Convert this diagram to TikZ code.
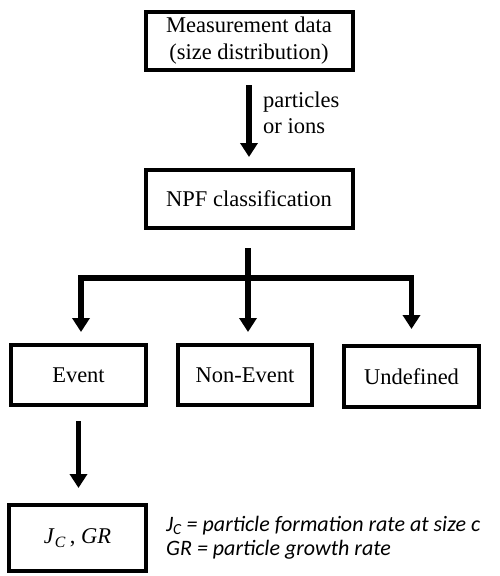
\documentclass[tikz,border=0pt]{standalone}
\usepackage{fontspec}
\setmainfont{Liberation Serif}
\newfontfamily\calfont{Carlito}
\usetikzlibrary{arrows.meta}
\tikzset{
  box/.style={draw, line width=4pt, rectangle, align=center, inner sep=0pt,
    font=\fontsize{22.5}{27}\selectfont},
  arr/.style={line width=5.5pt, -{Triangle[width=17pt,length=14pt]}},
  stem/.style={line width=5.5pt},
  note/.style={align=left, inner sep=0pt, anchor=base west}
}
\begin{document}
\begin{tikzpicture}[x=1pt,y=-1pt]
\useasboundingbox (0,0) rectangle (500,576);
\node[box, minimum width=207pt, minimum height=58pt] (meas) at (249,41) {Measurement data\\(size distribution)};
\node[box, minimum width=207pt, minimum height=58pt] (npf) at (249,199) {NPF classification};
\node[box, minimum width=135pt, minimum height=60pt] (event) at (78.5,375) {Event};
\node[box, minimum width=134pt, minimum height=60pt] (nonev) at (245,375) {Non-Event};
\node[box, minimum width=135pt, minimum height=61pt] (undef) at (411.5,376.5) {Undefined};
\node[box, minimum width=137pt, minimum height=66pt] (jc) at (77.5,538) {\textit{J}\textsubscript{\textit{C}}\,, \textit{GR}};
\node[note, font=\fontsize{22.5}{26}\selectfont] (lab) at (263,133) {particles\\or ions};
\node[note, font=\calfont\itshape\fontsize{22}{23.5}\selectfont] (def) at (166,555) {J\textsubscript{C} = particle formation rate at size c\\GR = particle growth rate};
\coordinate (bar) at (248,278);
\draw[arr, shorten <=13pt, shorten >=11pt] (meas.south) -- (npf.north);
\draw[stem, shorten <=18pt] (bar |- npf.south) -- ([yshift=-2.75pt]bar);
\draw[arr, shorten >=11pt, line join=miter] (bar) -| ([xshift=2.5pt]event.north);
\draw[arr, shorten >=11pt] (bar) -- (bar |- nonev.north);
\draw[arr, shorten >=15pt, line join=miter] (bar) -| (undef.north);
\draw[arr, shorten <=14pt, shorten >=15pt] (event.south) -- (event.south |- jc.north);
\end{tikzpicture}
\end{document}
